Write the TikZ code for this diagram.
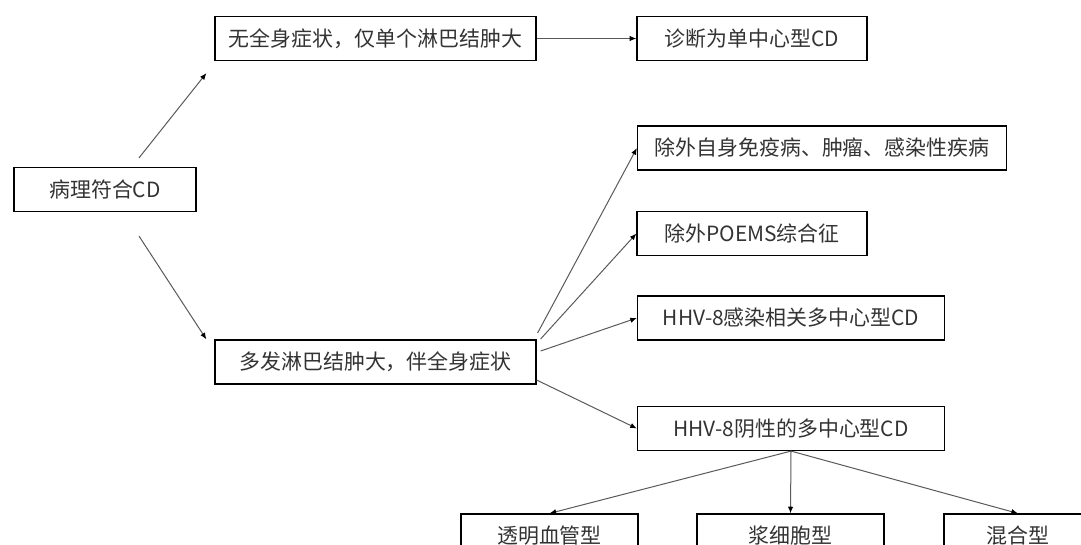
\documentclass[tikz,border=0pt]{standalone}
\usepackage{fontspec}
\setmainfont{Noto Sans CJK SC}
\usetikzlibrary{arrows.meta,calc}

\begin{document}
\begin{tikzpicture}[x=0.75pt,y=-0.75pt]
	\useasboundingbox (0,0) rectangle (1081,545);
	\clip (0,0) rectangle (1081,545);

	\begin{scope}[every node/.style={draw,line width=0.9pt,text=black!80,
			minimum height=33pt,inner sep=0pt,font=\fontsize{15.7}{19}\selectfont}]
		\node[minimum width=136.5pt] (bl) at (105,189.5) {病理符合CD};
		\node[minimum width=240.75pt] (wu) at (375.5,38.5) {无全身症状，仅单个淋巴结肿大};
		\node[minimum width=172.5pt] (zd) at (752,38.5) {诊断为单中心型CD};
		\node[minimum width=276.75pt] (cw) at (822,148) {除外自身免疫病、肿瘤、感染性疾病};
		\node[minimum width=172.5pt] (pm) at (752,233.5) {除外POEMS综合征};
		\node[minimum width=230.25pt] (hp) at (791,318) {HHV-8感染相关多中心型CD};
		\node[minimum width=240.75pt] (df) at (375.5,362) {多发淋巴结肿大，伴全身症状};
		\node[minimum width=230.25pt] (hn) at (791,428.5) {HHV-8阴性的多中心型CD};
		\node[minimum width=132.75pt] (tm) at (549.5,536) {透明血管型};
		\node[minimum width=140.25pt] (jx) at (790.5,536) {浆细胞型};
		\node[minimum width=111pt] (hh) at (1018,536) {混合型};
	\end{scope}

	\begin{scope}[every path/.style={draw=black!65,line width=0.75pt,
			-{Latex[length=5pt,width=4pt,black]}}]
		\path ($(bl.north)+(34,-9)$) -- ($(wu.south west)+(-8,12)$);
		\path ($(bl.south)+(34,24)$) -- ($(df.north west)+(-8,0)$);
		\path (wu.east) -- (zd.west);
		\path ($(df.east)+(1,-29)$) -- (cw.west);
		\path ($(df.east)+(4,-23)$) -- (pm.west);
		\path ($(df.east)+(4,-11)$) -- (hp.west);
		\path ($(df.east)+(0,18)$) -- (hn.west);
		\path (hn.south) -- (tm.north);
		\path (hn.south) -- (jx.north);
		\path (hn.south) -- (hh.north);
	\end{scope}
\end{tikzpicture}
\end{document}
